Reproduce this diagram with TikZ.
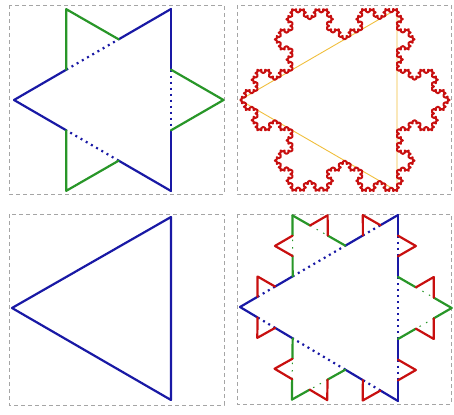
\documentclass[tikz,border=0pt]{standalone}
\usetikzlibrary{calc,decorations.fractals}
\definecolor{kblue}{RGB}{25,25,165}
\definecolor{kgreen}{RGB}{40,150,40}
\definecolor{kred}{RGB}{200,15,15}
\definecolor{korange}{RGB}{240,190,60}
\definecolor{kgray}{RGB}{165,165,165}
\tikzset{
  panel/.style={draw=kgray, line width=0.8pt, dash pattern=on 4pt off 3pt},
  bl/.style={draw=kblue, line width=2.2pt, line cap=round, line join=round},
  gr/.style={draw=kgreen, line width=2.2pt, line cap=round, line join=round},
  rd/.style={draw=kred, line width=2.2pt, line cap=round, line join=round},
  dotbl/.style={draw=kblue, line width=2.2pt, dash pattern=on 2pt off 4pt},
  dotgr/.style={draw=kgreen, line width=1pt, dash pattern=on 1.5pt off 6pt},
  thintri/.style={draw=korange, line width=0.9pt, line join=round},
  snow/.style={draw=kred, line width=2pt, line join=round, decoration=Koch snowflake}
}
% one Koch step on segment A-B: outer thirds in colour #3, middle third dotted (#6), bump in #4
\newcommand\kstep[6]{%
  \coordinate (#5a) at ($(#1)!1/3!(#2)$);
  \coordinate (#5b) at ($(#1)!2/3!(#2)$);
  \coordinate (#5c) at ($(#5a)!1!60:(#5b)$);
  \draw[#6] (#5a) -- (#5b);
  \draw[#3] (#1) -- (#5a) (#5b) -- (#2);
  \draw[#4] (#5a) -- (#5c) -- (#5b);
}
% second level on segment A-B (blue edge)
\newcommand\ktwo[3]{%
  \coordinate (#3a) at ($(#1)!1/3!(#2)$);
  \coordinate (#3b) at ($(#1)!2/3!(#2)$);
  \coordinate (#3c) at ($(#3a)!1!60:(#3b)$);
  \draw[dotbl] (#3a) -- (#3b);
  \kstep{#1}{#3a}{bl}{rd}{#3p}{dotbl}
  \kstep{#3b}{#2}{bl}{rd}{#3q}{dotbl}
  \kstep{#3a}{#3c}{gr}{rd}{#3r}{dotgr}
  \kstep{#3c}{#3b}{gr}{rd}{#3s}{dotgr}
}
\begin{document}
\begin{tikzpicture}[x=1pt,y=-1pt]
\useasboundingbox (0,0) rectangle (454,414);
% panels
\draw[panel] (9,5) rectangle (224,194);
\draw[panel] (237,5) rectangle (451,194);
\draw[panel] (9,214) rectangle (224,405);
\draw[panel] (237,214) rectangle (451,404);
% panel 1 : first step
\coordinate (La) at (14,100);
\coordinate (Ta) at (171,9);
\coordinate (Ba) at (171,191);
\kstep{La}{Ta}{bl}{gr}{ea}{dotbl}
\kstep{Ta}{Ba}{bl}{gr}{eb}{dotbl}
\kstep{Ba}{La}{bl}{gr}{ec}{dotbl}
% panel 2 : snowflake
\coordinate (Lb) at (240,100);
\coordinate (Tb) at (397,9);
\coordinate (Bb) at (397,191);
\draw[thintri] (Lb) -- (Tb) -- (Bb) -- cycle;
\draw[snow] decorate{decorate{decorate{decorate{(Lb) -- (Tb) -- (Bb) -- cycle}}}};
% panel 3 : triangle
\coordinate (Lc) at (12,308);
\coordinate (Tc) at (171,217);
\coordinate (Bc) at (171,400);
\draw[bl] (Lc) -- (Tc) -- (Bc) -- cycle;
% panel 4 : second step
\coordinate (Ld) at (240,307);
\coordinate (Td) at (398,215);
\coordinate (Bd) at (398,401);
\ktwo{Ld}{Td}{fa}
\ktwo{Td}{Bd}{fb}
\ktwo{Bd}{Ld}{fc}
\end{tikzpicture}
\end{document}
